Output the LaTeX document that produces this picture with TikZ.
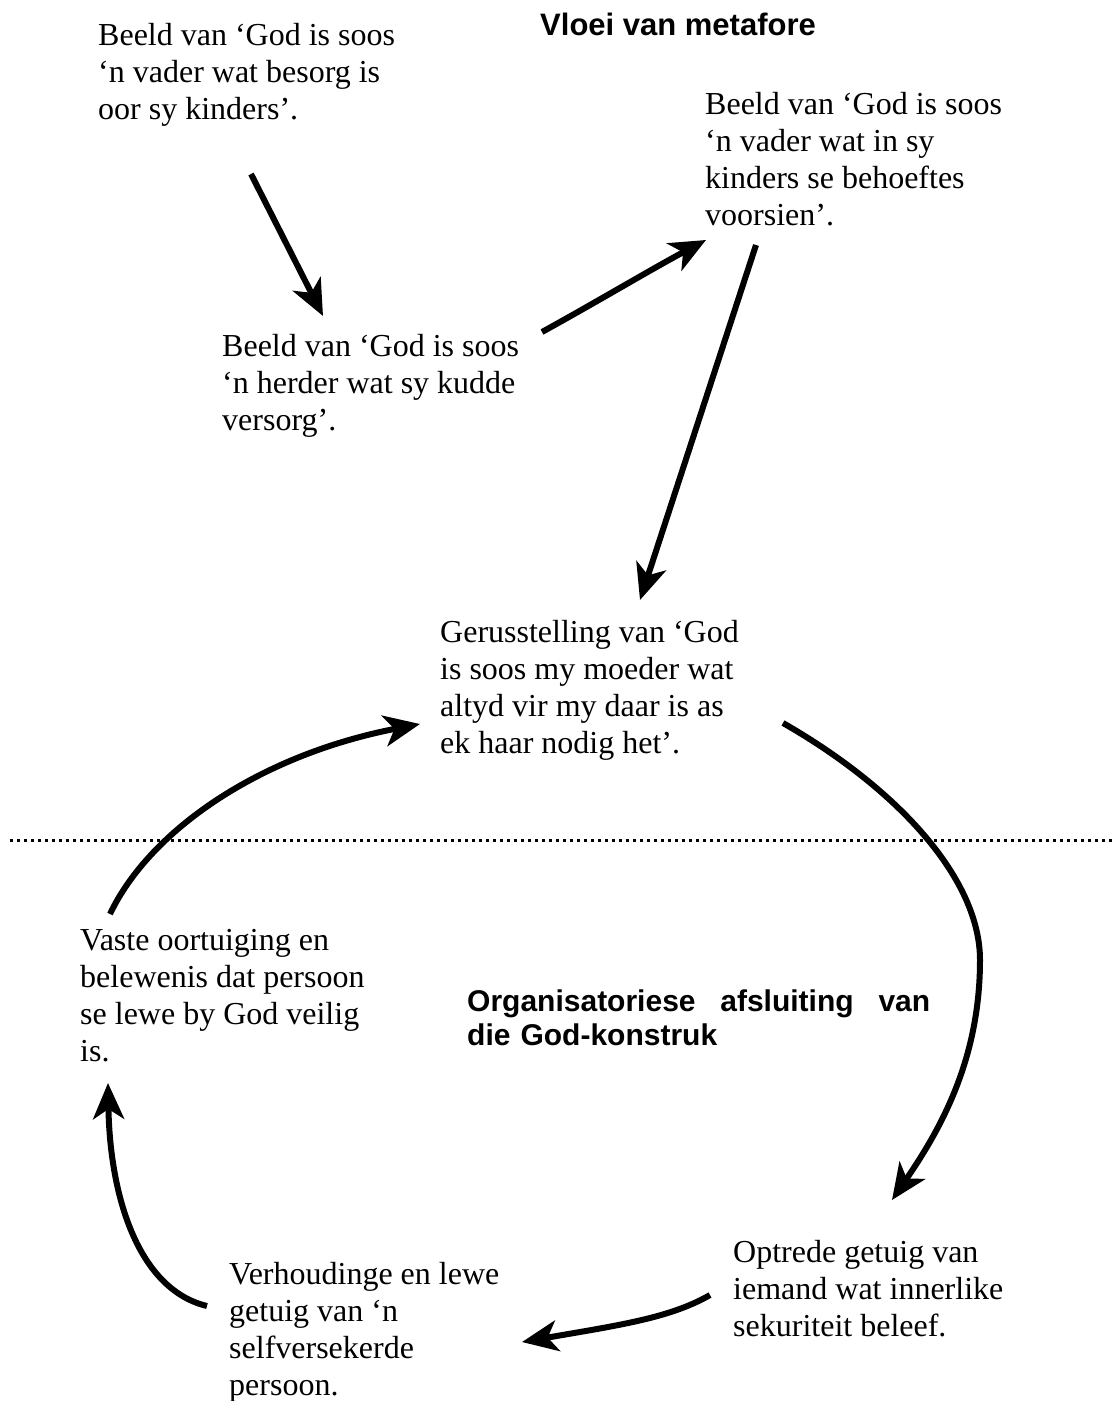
\documentclass[tikz,border=0pt]{standalone}
\usepackage{fontspec}
\setmainfont{Liberation Serif}
\setsansfont{Liberation Sans}
\usetikzlibrary{arrows.meta}
\begin{document}
\begin{tikzpicture}[x=1pt,y=-1pt,
  txt/.style={anchor=north west,inner sep=0pt,align=left,font=\fontsize{32}{37}\selectfont},
  head/.style={anchor=north west,inner sep=0pt,align=left,font=\sffamily\bfseries\fontsize{30}{34}\selectfont},
  conn/.style={line width=6pt,-{Stealth[length=36pt,width=31pt,inset=10pt]}},
  sep/.style={line width=3pt,dash pattern=on 3pt off 4pt}]
\useasboundingbox (0,0) rectangle (1113,1401);
\node[txt] (A) at (98,23) {Beeld van ‘God is soos\\‘n vader wat besorg is\\oor sy kinders’.};
\node[head,font=\sffamily\bfseries\fontsize{31}{34}\selectfont] (H1) at (540,13) {Vloei van metafore};
\node[txt] (B) at (705,92) {Beeld van ‘God is soos\\‘n vader wat in sy\\kinders se behoeftes\\voorsien’.};
\node[txt] (C) at (222,334) {Beeld van ‘God is soos\\‘n herder wat sy kudde\\versorg’.};
\node[txt] (D) at (440,620) {Gerusstelling van ‘God\\is soos my moeder wat\\altyd vir my daar is as\\ek haar nodig het’.};
\node[txt] (E) at (80,929) {Vaste oortuiging en\\belewenis dat persoon\\se lewe by God veilig\\is.};
\node[head,text width=463pt] (H2) at (467,990) {Organisatoriese\hfill afsluiting\hfill van\\die God-konstruk};
\node[txt] (F) at (733,1240) {Optrede getuig van\\iemand wat innerlike\\sekuriteit beleef.};
\node[txt] (G) at (229,1262) {Verhoudinge en lewe\\getuig van ‘n\\selfversekerde\\persoon.};
% separator
\coordinate (sl) at (10,840);
\coordinate (sr) at (1113,840);
\draw[sep] (sl) -- (sr);
% connector end points
\coordinate (a1s) at (251,174);
\coordinate (a1e) at (323,316);
\coordinate (a2s) at (542,332);
\coordinate (a2e) at (706,240);
\coordinate (a3s) at (756,245);
\coordinate (a3e) at (640,600);
\coordinate (a4s) at (110,914);
\coordinate (a4e) at (420,724);
\coordinate (a5s) at (783,723);
\coordinate (a5m) at (980,960);
\coordinate (a5e) at (892,1200);
\coordinate (a6s) at (710,1295);
\coordinate (a6e) at (522,1342);
\coordinate (a7s) at (207,1306);
\coordinate (a7e) at (108,1083);
\draw[conn] (a1s) -- (a1e);
\draw[conn] (a2s) .. controls (600,300) and (650,270) .. (a2e);
\draw[conn] (a3s) -- (a3e);
\draw[conn] (a4s) .. controls (150,830) and (260,755) .. (a4e);
\draw[conn] (a5s) .. controls (900,790) and (980,880) .. (a5m) .. controls (980,1060) and (940,1130) .. (a5e);
\draw[conn] (a6s) .. controls (670,1318) and (620,1325) .. (a6e);
\draw[conn] (a7s) .. controls (140,1290) and (110,1200) .. (a7e);
\end{tikzpicture}
\end{document}
